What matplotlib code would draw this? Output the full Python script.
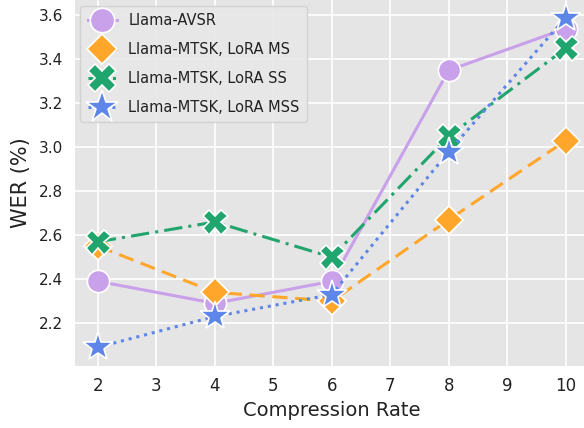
import matplotlib
matplotlib.use("Agg")
import matplotlib.pyplot as plt

# Compression rates and WER (%) for each model
rates = [2, 4, 6, 8, 10]
avsr = [2.39, 2.29, 2.39, 3.35, 3.54]
mtsk_ms = [2.55, 2.34, 2.30, 2.67, 3.03]
mtsk_ss = [2.57, 2.66, 2.50, 3.05, 3.45]
mtsk_mss = [2.09, 2.23, 2.33, 2.98, 3.59]

labels = ["Llama-AVSR", "Llama-MTSK, LoRA MS", "Llama-MTSK, LoRA SS", "Llama-MTSK, LoRA MSS"]
xticks = [2, 3, 4, 5, 6, 7, 8, 9, 10]
yticks = [2.2, 2.4, 2.6, 2.8, 3.0, 3.2, 3.4, 3.6]

comic = ["DejaVu Sans"]

fig = plt.figure(figsize=(5.84, 4.28), dpi=100)
ax = fig.add_axes([0.1276, 0.145, 0.881, 0.855])
ax.set_facecolor("#E5E5E5")
ax.grid(True, color="white", linewidth=1.2)
ax.set_axisbelow(True)
for s in ax.spines.values():
    s.set_visible(False)

styles = [
    dict(color="#C9A0EA", linestyle="-", marker="o", markersize=16),
    dict(color="#FFA62B", linestyle=(0, (5, 2.5)), marker="D", markersize=14),
    dict(color="#21A56F", linestyle=(0, (6, 2, 1, 2)), marker="X", markersize=18),
    dict(color="#5E86E8", linestyle=(0, (1, 1.6)), marker="*", markersize=22),
]
series = [avsr, mtsk_ms, mtsk_ss, mtsk_mss]
for vals, lab, st in zip(series, labels, styles):
    ax.plot(rates, vals, label=lab, linewidth=2.2, markeredgecolor="white",
            markeredgewidth=1.2, **st)

ax.set_xlim(1.6, 10.4)
ax.set_ylim(2.005, 3.67)
ax.set_xticks(xticks)
ax.set_yticks(yticks)
ax.set_yticklabels([f"{v:.1f}" for v in yticks], fontsize=11, color="#222222")
ax.set_xticklabels([str(v) for v in xticks], fontsize=12, family=comic, color="#222222")
ax.tick_params(length=0, pad=8)
ax.set_xlabel("Compression Rate", fontsize=14, family=comic, color="#222222", labelpad=4)
ax.set_ylabel("WER (%)", fontsize=15, color="#222222", labelpad=6)

leg = ax.legend(loc="upper left", prop={"family": comic, "size": 10.5},
                frameon=True, facecolor="#E8E8E8", edgecolor="#D0D0D0",
                framealpha=0.9, borderpad=0.5, labelspacing=0.95, handlelength=2.0,
                markerscale=1.1, bbox_to_anchor=(0.0, 1.0), borderaxespad=0.4)
for t in leg.get_texts():
    t.set_color("#222222")

fig.savefig("out.png", dpi=100)
